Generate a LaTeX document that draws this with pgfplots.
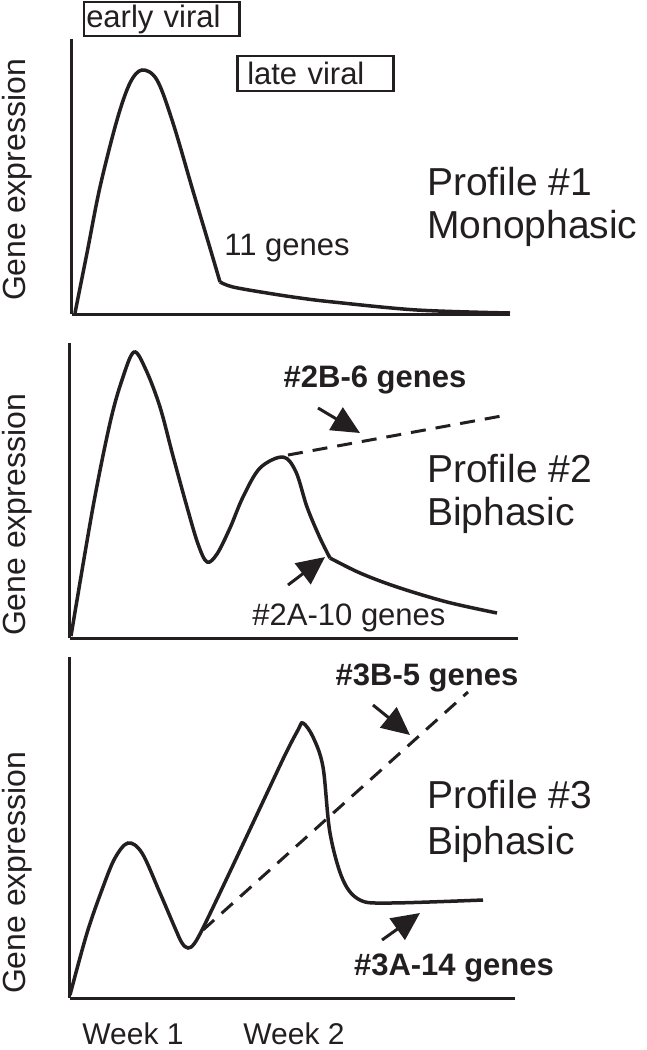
\documentclass[border=0pt]{standalone}
\usepackage{fontspec}
\setmainfont{Liberation Sans}
\usepackage{pgfplots}
\pgfplotsset{compat=1.18}
\usetikzlibrary{arrows.meta}
\definecolor{ink}{RGB}{35,31,32}
\newcommand\fs[1]{\fontsize{#1}{#1}\selectfont}

\pgfplotsset{
  panel/.style={scale only axis, axis lines=left,
    axis line style={line width=3pt,-,ink},
    xmin=0, ymin=0, xtick=\empty, ytick=\empty,
    clip=false, anchor=south west},
  curve/.style={ink, line width=3.5pt, smooth, tension=0.55, no marks},
  trend/.style={ink, line width=3pt, dash pattern=on 15pt off 10pt, no marks},
  pointer/.style={ink, line width=3pt, no marks, -{Triangle[length=28pt,width=26pt]}},
}
\tikzset{ylab/.style={rotate=90, inner sep=0pt, ink, font=\fs{32}}}

\begin{document}
\begin{tikzpicture}[x=1pt,y=1pt]
\useasboundingbox (0,0) rectangle (647,-1050);

% Profile 1
\begin{axis}[panel, at={(72,-314)}, width=438pt, height=275pt, xmax=438, ymax=275]
\addplot[curve] coordinates {(3,1) (15,61) (28,127) (45,194) (58,231) (70,244) (85,234) (101,191) (121,123) (138,66) (148,32)};
\addplot[curve] coordinates {(148,32) (161,27) (195,21) (228,16) (261,12) (345,4) (438,1)};
\node[ylab] at (axis cs:-55,134) {Gene expression};
\node[draw=ink, line width=2.5pt, anchor=west, inner xsep=2pt, inner ysep=0pt,
      text width=151pt, align=left, minimum height=34pt, ink, font=\fs{31}] at (axis cs:11,295) {early viral};
\node[draw=ink, line width=2.5pt, anchor=west, inner xsep=10pt, inner ysep=0pt,
      text width=136pt, align=left, minimum height=35pt, ink, font=\fs{31}] at (axis cs:164,240.5) {late viral};
\node[anchor=base, inner sep=0pt, ink, font=\fs{31}] at (axis cs:215,59) {11 genes};
\node[anchor=base west, inner sep=0pt, ink, font=\fs{39}] at (axis cs:355,119) {Profile \#1};
\node[anchor=base west, inner sep=0pt, ink, font=\fs{39}] at (axis cs:355,76) {Monophasic};
\end{axis}

% Profile 2
\begin{axis}[panel, at={(70,-638)}, width=448pt, height=295pt, xmax=448, ymax=295]
\addplot[curve] coordinates {(1,2) (23,131) (40,215) (52,258) (64,286) (76,268) (90,231) (103,182) (117,131) (128,94) (137,76) (147,84) (160,110) (173,141) (190,170) (213,181) (226,166) (237,131) (250,100) (260,80)};
\addplot[curve] coordinates {(260,80) (290,65) (327,51) (377,36) (427,25)};
\addplot[trend] coordinates {(218,183) (437,223)};
\addplot[pointer] coordinates {(248,230) (290,205)};
\addplot[pointer] coordinates {(218,53) (255,81)};
\node[ylab] at (axis cs:-53,123) {Gene expression};
\node[anchor=base, inner sep=0pt, ink, font=\fs{31}\bfseries] at (axis cs:305,251) {\#2B-6 genes};
\node[anchor=base, inner sep=0pt, ink, font=\fs{31}] at (axis cs:279,13) {\#2A-10 genes};
\node[anchor=base west, inner sep=0pt, ink, font=\fs{39}] at (axis cs:357,156) {Profile \#2};
\node[anchor=base west, inner sep=0pt, ink, font=\fs{39}] at (axis cs:357,113) {Biphasic};
\end{axis}

% Profile 3
\begin{axis}[panel, at={(70,-998)}, width=445pt, height=341pt, xmax=445, ymax=341,
  xtick={63,224}, xticklabels={Week 1,Week 2}, major tick length=0pt,
  xticklabel style={anchor=center, yshift=-36pt, ink, font=\fs{30}}]
\addplot[curve] coordinates {(0,3) (17,65) (33,111) (45,140) (58,155) (72,145) (90,105) (105,70) (112,55) (118,50) (124,54) (133,70) (157,120) (190,190) (215,243) (228,268) (233,275) (243,261) (253,231) (260,165) (273,118) (290,98) (320,95) (413,98)};
\addplot[trend] coordinates {(133,68) (398,306)};
\addplot[pointer] coordinates {(303,293) (340,263)};
\addplot[pointer] coordinates {(312,58) (350,85)};
\node[ylab] at (axis cs:-53,125) {Gene expression};
\node[anchor=base, inner sep=0pt, ink, font=\fs{31}\bfseries] at (axis cs:357,313) {\#3B-5 genes};
\node[anchor=base, inner sep=0pt, ink, font=\fs{31}\bfseries] at (axis cs:384,23) {\#3A-14 genes};
\node[anchor=base west, inner sep=0pt, ink, font=\fs{39}] at (axis cs:357,190) {Profile \#3};
\node[anchor=base west, inner sep=0pt, ink, font=\fs{39}] at (axis cs:357,144) {Biphasic};
\end{axis}
\end{tikzpicture}
\end{document}
